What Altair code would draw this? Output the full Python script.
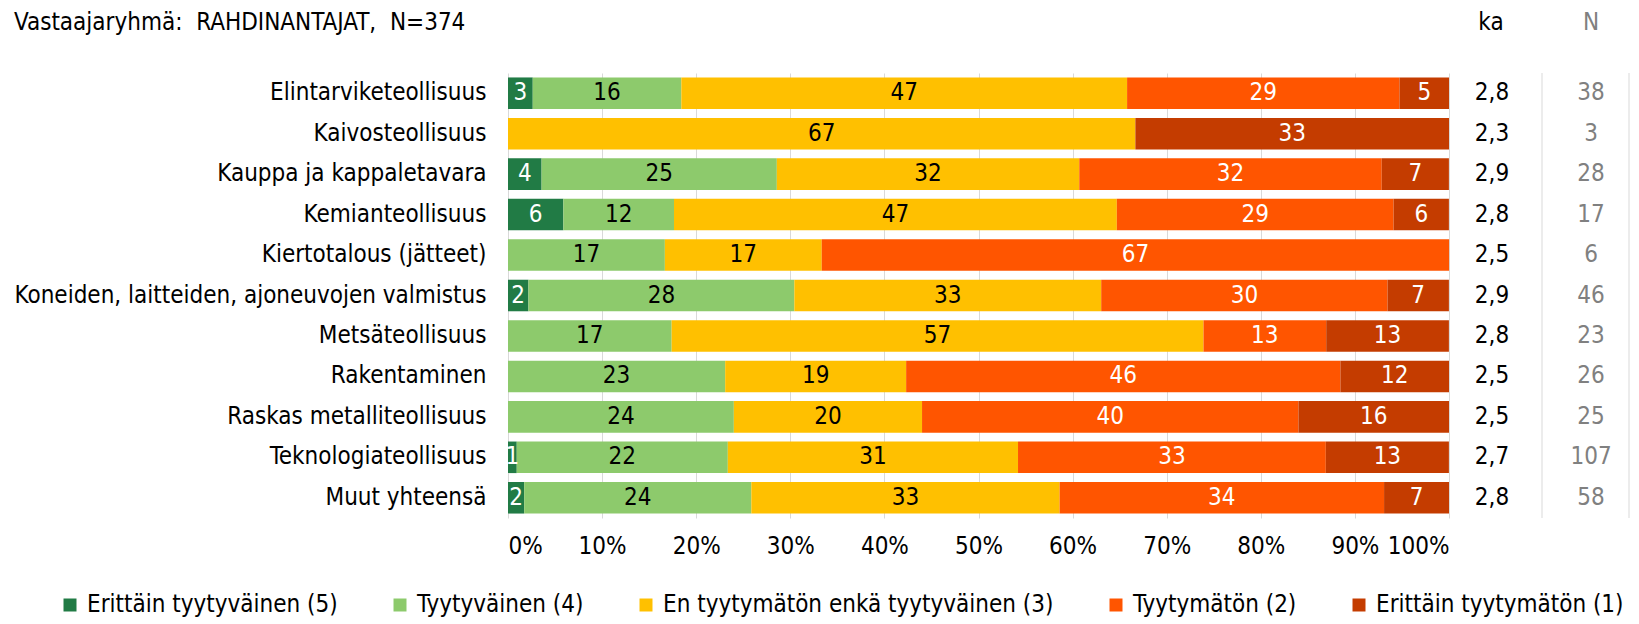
import altair as alt
import pandas as pd

F = "'DejaVu Sans Condensed', 'DejaVu Sans', sans-serif"
FS = 24
NB = "\u00a0"

title_text = "Vastaajaryhmä:" + NB + NB + "RAHDINANTAJAT," + NB + NB + "N=374"

categories = [
    "Elintarviketeollisuus",
    "Kaivosteollisuus",
    "Kauppa ja kappaletavara",
    "Kemianteollisuus",
    "Kiertotalous (jätteet)",
    "Koneiden, laitteiden, ajoneuvojen valmistus",
    "Metsäteollisuus",
    "Rakentaminen",
    "Raskas metalliteollisuus",
    "Teknologiateollisuus",
    "Muut yhteensä",
]
levels = [
    "Erittäin tyytyväinen (5)",
    "Tyytyväinen (4)",
    "En tyytymätön enkä tyytyväinen (3)",
    "Tyytymätön (2)",
    "Erittäin tyytymätön (1)",
]
colors = ["#217B45", "#8DCA6C", "#FFC000", "#FF5500", "#C43C00"]

# shares (%) per level, rows in category order
v5 = [2.63, 0, 3.57, 5.88, 0, 2.17, 0, 0, 0, 0.93, 1.72]
v4 = [15.79, 0, 25.00, 11.76, 16.67, 28.26, 17.39, 23.08, 24.00, 22.43, 24.14]
v3 = [47.37, 66.67, 32.14, 47.06, 16.67, 32.61, 56.52, 19.23, 20.00, 30.84, 32.76]
v2 = [28.95, 0, 32.14, 29.41, 66.67, 30.43, 13.04, 46.15, 40.00, 32.71, 34.48]
v1 = [5.26, 33.33, 7.14, 5.88, 0, 6.52, 13.04, 11.54, 16.00, 13.08, 6.90]
ka = ["2,8", "2,3", "2,9", "2,8", "2,5", "2,9", "2,8", "2,5", "2,5", "2,7", "2,8"]
n_resp = [38, 3, 28, 17, 6, 46, 23, 26, 25, 107, 58]

series = [v5, v4, v3, v2, v1]
rows = []
for li, (lev, vals) in enumerate(zip(levels, series)):
    for ci, cat in enumerate(categories):
        v = vals[ci]
        rows.append({
            "category": cat,
            "level": lev,
            "order": li,
            "value": v,
            "label": str(int(v + 0.5)) if v > 0 else "",
        })
df = pd.DataFrame(rows)
df_side = pd.DataFrame({"category": categories, "ka": ka, "n": [str(x) for x in n_resp]})

W, H = 941, 445
TITLE_OFFSET = 38

yscale = alt.Scale(paddingInner=0.22, paddingOuter=0.11)

base = alt.Chart(df).transform_stack(
    stack="value", groupby=["category"], sort=[alt.SortField("order")], as_=["x0", "x1"]
).transform_calculate(mid="(datum.x0 + datum.x1) / 2")

ycat = alt.Y(
    "category:N", sort=categories, title=None, scale=yscale,
    axis=alt.Axis(labelFont=F, labelFontSize=FS, labelColor="#000000", labelPadding=22,
                  domain=False, ticks=False, labelLimit=700),
)

bars = base.mark_bar().encode(
    x=alt.X("x0:Q", title=None,
            scale=alt.Scale(domain=[0, 100], nice=False),
            axis=alt.Axis(values=list(range(0, 101, 10)), labelExpr="datum.value + '%'",
                          labelFont=F, labelFontSize=FS, labelColor="#000000",
                          labelPadding=16, domain=False, ticks=False,
                          gridColor="#D9D9D9", gridWidth=1)),
    x2="x1:Q",
    y=ycat,
    color=alt.Color("level:N", scale=alt.Scale(domain=levels, range=colors),
                    legend=alt.Legend(orient="none", legendX=-450, legendY=520,
                                      direction="horizontal", columns=5, title=None,
                                      symbolType="square", symbolSize=169,
                                      symbolStrokeWidth=0, labelFont=F,
                                      labelFontSize=FS, labelColor="#000000",
                                      labelOffset=5, columnPadding=50, labelLimit=600)),
)

text_white = base.transform_filter(
    "datum.value > 0 && (datum.order == 0 || datum.order >= 3)"
).mark_text(font=F, fontSize=FS, color="white").encode(
    x="mid:Q", y=alt.Y("category:N", sort=categories), text="label:N"
)
text_black = base.transform_filter(
    "datum.value > 0 && (datum.order == 1 || datum.order == 2)"
).mark_text(font=F, fontSize=FS, color="black").encode(
    x="mid:Q", y=alt.Y("category:N", sort=categories), text="label:N"
)

main = alt.layer(bars, text_white, text_black).properties(
    width=W, height=H,
    title=alt.Title(title_text, anchor="start", frame="bounds", font=F, fontSize=FS,
                    fontWeight="normal", color="#000000", offset=TITLE_OFFSET),
)


def side_col(field, head, color, colw, tx, tdx):
    txt = alt.Chart(df_side).mark_text(font=F, fontSize=FS, color=color).encode(
        y=alt.Y("category:N", sort=categories, axis=None, scale=yscale),
        x=alt.value(tx),
        text=f"{field}:N",
    )
    rule = alt.Chart(pd.DataFrame({"k": [0]})).mark_rule(color="#D9D9D9", strokeWidth=1).encode(
        x=alt.value(colw), y=alt.value(0), y2=alt.value(H)
    )
    return alt.layer(rule, txt).properties(
        width=colw, height=H,
        title=alt.Title(head, anchor="middle", font=F, fontSize=FS, fontWeight="normal",
                        color=color, offset=TITLE_OFFSET, dx=tdx),
    )


chart = alt.hconcat(
    main,
    side_col("ka", "ka", "#000000", 92, 42, -5),
    side_col("n", "N", "#808080", 86, 48, 5),
    spacing=0,
).properties(
    padding={"left": 6, "top": 2, "right": 0, "bottom": 0}
).configure_view(stroke=None)

chart.save("out.html", embed_options={"renderer": "svg", "actions": False})
